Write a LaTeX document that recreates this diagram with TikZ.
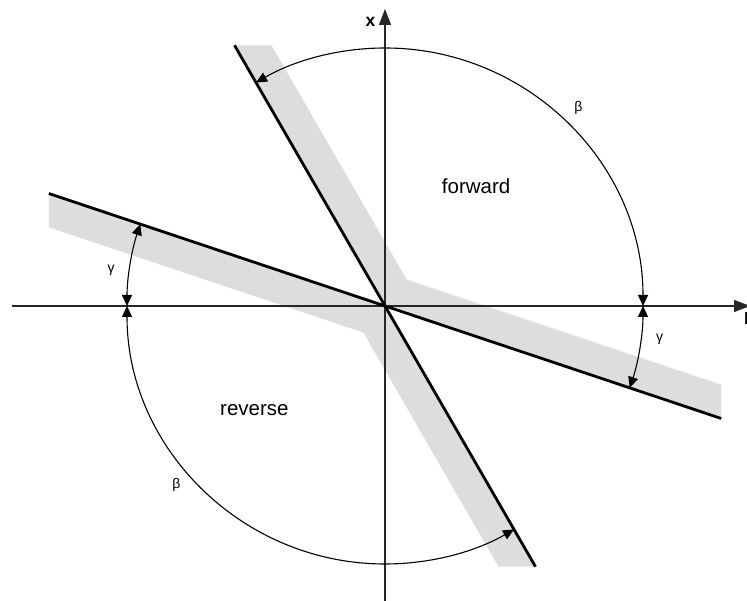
\documentclass[tikz,border=0pt]{standalone}
\usepackage{fontspec}
\setmainfont{Liberation Sans}
\usetikzlibrary{arrows.meta,calc}
\definecolor{bandgray}{RGB}{221,221,221}
\begin{document}
\begin{tikzpicture}[x=1pt,y=1pt,
  band/.style={fill=bandgray,draw=none},
  axis/.style={line width=1.1pt,draw=black!85,-{Triangle[length=16pt,width=12pt]}},
  charline/.style={line width=2.8pt,black},
  angarc/.style={line width=1.1pt,{Triangle[length=11pt,width=10pt]}-{Triangle[length=11pt,width=10pt]}},
  lbl/.style={font=\fontsize{20.5}{24}\selectfont,inner sep=0pt},
  greek/.style={font=\fontsize{14}{16}\selectfont,inner sep=0pt},
  axlbl/.style={font=\fontsize{17.5}{20}\selectfont\bfseries,inner sep=0pt}]
\useasboundingbox (0,0) rectangle (747,601);
\begin{scope}[shift={(385,295)}]
  \coordinate (O) at (0,0);
  \coordinate (T) at (120:301);
  \coordinate (B) at (-60:301);
  \coordinate (L) at (161.5:354.5);
  \coordinate (R) at (-18.5:354.5);
  \coordinate (T2) at ($(T)+(36.95,0)$);
  \coordinate (R2) at ($(R)+(0,33.74)$);
  \coordinate (C1) at (50.75:34.22);
  \coordinate (L2) at ($(L)+(0,-33.74)$);
  \coordinate (B2) at ($(B)+(-36.95,0)$);
  \coordinate (C2) at (230.75:34.22);
  % gray bands
  \fill[band] (O) -- (T) -- (T2) -- (C1) -- (R2) -- (R) -- cycle;
  \fill[band] (O) -- (L) -- (L2) -- (C2) -- (B2) -- (B) -- cycle;
  % axes
  \coordinate (xl) at (-373,0);
  \coordinate (xr) at (365,0);
  \coordinate (yb) at (0,-296);
  \coordinate (yt) at (0,297);
  \draw[axis] (xl) -- (xr);
  \draw[axis] (yb) -- (yt);
  % characteristic lines
  \draw[charline] (T) -- (B);
  \draw[charline] (L) -- (R);
  % angle arcs
  \coordinate (a0) at (0:258);
  \coordinate (a180) at (180:258);
  \coordinate (aL) at (161.5:258);
  \coordinate (aR) at (-18.5:258);
  \draw[angarc] (a0) arc[start angle=0,end angle=120,radius=258pt];
  \draw[angarc] (a180) arc[start angle=180,end angle=300,radius=258pt];
  \draw[angarc] (aL) arc[start angle=161.5,end angle=180,radius=258pt];
  \draw[angarc] (aR) arc[start angle=-18.5,end angle=0,radius=258pt];
  % labels
  \node[axlbl] (xlab) at (-14.5,284.5) {x};
  \node[axlbl,anchor=west] (ilab) at (359,-12.5) {I};
  \node[lbl,anchor=base west] (fwd) at (56.7,112.7) {forward};
  \node[lbl,anchor=base west] (rev) at (-165,-110) {reverse};
  \node[greek] (b1) at (193.5,198) {β};
  \node[greek] (b2) at (-208.7,-179) {β};
  \node[greek] (g1) at (-274,36) {γ};
  \node[greek] (g2) at (274.7,-33.5) {γ};
\end{scope}
\end{tikzpicture}
\end{document}
